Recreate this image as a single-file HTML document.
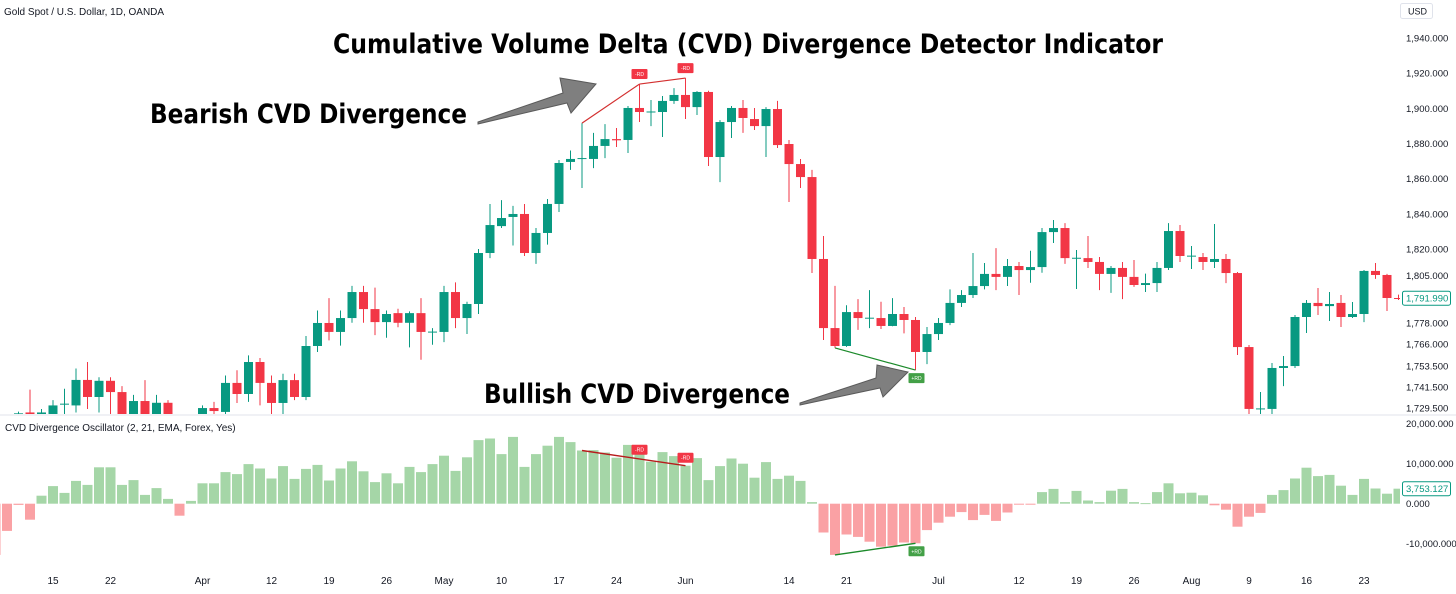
<!DOCTYPE html>
<html><head><meta charset="utf-8"><style>
html,body{margin:0;padding:0;background:#fff;}
svg{display:block;font-family:"Liberation Sans",sans-serif;}
</style></head><body>
<svg id="chart" width="1456" height="594" viewBox="0 0 1456 594" xmlns="http://www.w3.org/2000/svg">
<defs>
<clipPath id="pclip"><rect x="0" y="0" width="1400" height="414"/></clipPath>
<clipPath id="oclip"><rect x="0" y="416" width="1400" height="152"/></clipPath>
</defs>
<rect width="1456" height="594" fill="#fff"/>
<line x1="0" y1="415" x2="1456" y2="415" stroke="#e0e3eb" stroke-width="1"/>
<g id="price" clip-path="url(#pclip)"></g>
<g id="osc" clip-path="url(#oclip)"></g>
<g id="axes"></g>
<g id="annot"></g>
<text x="4" y="15" font-size="10" fill="#131722">Gold Spot / U.S. Dollar, 1D, OANDA</text>
<text x="5" y="431" font-size="10" fill="#131722">CVD Divergence Oscillator (2, 21, EMA, Forex, Yes)</text>
<rect x="1400.5" y="3.5" width="32" height="15" rx="2" fill="#fff" stroke="#e0e3eb"/>
<text x="1408" y="14.5" font-size="9" fill="#131722">USD</text>
<text x="333" y="53" font-size="27" font-weight="bold" fill="#000" font-family="DejaVu Sans, sans-serif" textLength="830" lengthAdjust="spacingAndGlyphs">Cumulative Volume Delta (CVD) Divergence Detector Indicator</text>
<text x="150" y="123" font-size="27" font-weight="bold" fill="#000" font-family="DejaVu Sans, sans-serif" textLength="317" lengthAdjust="spacingAndGlyphs">Bearish CVD Divergence</text>
<text x="484" y="403" font-size="27" font-weight="bold" fill="#000" font-family="DejaVu Sans, sans-serif" textLength="306" lengthAdjust="spacingAndGlyphs">Bullish CVD Divergence</text>
<polygon points="478,122 563,93 560,78 596,84 571,113 567,103 478,124" fill="#7f7f7f" stroke="#5a5a5a" stroke-width="1"/>
<polygon points="800,403 876,378 877,365 908,372 883,397 880,388 800,405" fill="#7f7f7f" stroke="#5a5a5a" stroke-width="1"/>
</svg>
<script>
const firstIndex = -5;
const opens = [1718,1715,1726,1727,1726,1724,1731.5,1731,1745.5,1735.8,1745,1738.6,1722,1733.5,1723,1732.5,1723,1716,1724,1729.5,1727.3,1743.8,1737.5,1755.7,1743.8,1732.4,1745.4,1735.8,1764.8,1777.9,1772.8,1780.7,1795.5,1785.8,1778.4,1783.5,1778,1783.5,1772.8,1772.8,1795.5,1780.7,1788.7,1817.7,1833,1838.2,1839.9,1817.7,1829.1,1845.6,1869.5,1871.5,1871.2,1878.6,1882.5,1882,1900.2,1897.9,1897.9,1904.2,1907.6,1900.7,1909.3,1872.3,1892.2,1900.2,1893.9,1889.9,1899.6,1879.7,1868.3,1860.9,1814.3,1775,1764.8,1784.1,1780.7,1780.7,1776.2,1783,1779.6,1761.4,1771.6,1777.9,1789.3,1793.8,1798.9,1805.8,1804.1,1810.3,1808,1809.7,1829.6,1831.9,1814.8,1814.8,1812.6,1805.8,1809.2,1804.1,1799.5,1800.6,1809.2,1830.2,1816,1815.4,1812.6,1814.3,1806.3,1764.2,1729,1729,1752.3,1753.4,1781.3,1789.3,1787.5,1789.3,1781.3,1783,1807.5,1805.2,1792.1];
const highs = [1722,1724,1727.5,1740,1729,1734,1740.5,1752,1755.7,1747,1747,1742,1737,1745.4,1737,1734,1726,1724,1731,1733,1748,1751,1759.5,1758,1748,1749,1749,1770.5,1785,1792,1785,1799,1799,1798,1785,1786,1784.5,1792,1775,1799,1801,1790,1820,1845.6,1847.8,1844.5,1845.6,1831.9,1848.4,1870.6,1876,1891.6,1886,1891,1888.8,1901.3,1913.8,1904.7,1907,1911.5,1917.2,1909.8,1910,1893.3,1901.3,1904.7,1900.2,1900.7,1904.2,1882,1871.2,1865,1827.4,1799,1788,1791.5,1796.6,1790,1792,1787,1781.3,1775.6,1780.7,1797,1796.6,1817.7,1812,1820.5,1814.3,1812.6,1819,1831.9,1836.5,1834.7,1819.4,1827.4,1815.4,1810.3,1812.6,1813.7,1806,1812.6,1834.7,1833.6,1821.7,1817.7,1834.2,1817.1,1806.9,1765.4,1738.6,1755.1,1759.1,1782.4,1791,1797.8,1795.5,1793.8,1789.8,1808,1812,1805.8,1794];
const lows = [1710,1712,1718,1715,1720,1718,1722,1727,1729,1727,1726,1715,1715,1716,1717,1716,1712,1710,1720,1725,1724,1732.4,1733,1731,1726,1726,1734,1734,1761.4,1768,1765,1778,1778,1771,1769.5,1775.5,1764,1757,1765.5,1767,1775,1771.6,1783,1814.8,1831.9,1822,1816,1811.5,1822.5,1841,1865,1854.7,1866,1871.7,1878,1874.6,1892.2,1889.9,1883.7,1902.5,1893.9,1896.2,1867.2,1858,1883.1,1886,1887.7,1872.3,1877.4,1846.7,1854.7,1806.3,1768.2,1763.7,1764.3,1774,1775,1774.5,1776,1772,1751.1,1754.5,1768.2,1776.7,1787,1792.1,1797,1796.6,1798.9,1793.8,1800.8,1806.5,1823.4,1811.5,1797.2,1809.2,1796.6,1795,1791.5,1798.4,1795.5,1795.5,1808,1812.6,1808.6,1808,1809.2,1800.6,1759.7,1720,1720,1720,1742,1752.3,1772.2,1782.4,1779,1775.6,1780.7,1778.4,1803,1784.7,1791];
const closes = [1715,1722,1726.5,1725,1727,1731,1732,1745.5,1735.8,1745,1738.6,1722,1733.5,1722,1732.5,1723,1716,1722,1729.5,1727.8,1743.8,1737.5,1755.7,1743.8,1732.4,1745.4,1735.8,1764.8,1777.9,1772.8,1780.7,1795.5,1785.8,1778.4,1783,1778,1783.5,1772.8,1773,1795.5,1780.7,1788.7,1817.7,1833.6,1837.6,1839.9,1817.7,1829.1,1845.6,1868.9,1871.2,1871.7,1878.6,1882.5,1881.8,1900.2,1897.9,1898.2,1904.2,1907.6,1900.7,1909.3,1872.3,1892.2,1900.2,1894.5,1889.9,1899.6,1879.1,1868.3,1860.9,1814.3,1775,1764.8,1784.1,1780.7,1780.9,1776.2,1783,1779.6,1761.4,1771.6,1777.9,1789.3,1793.8,1798.9,1805.8,1804.1,1810.3,1808,1809.7,1829.6,1831.9,1814.8,1815,1812.6,1805.8,1809.2,1804.1,1799.5,1800.6,1809.2,1830.2,1816,1816.2,1812.6,1814.3,1806.3,1764.2,1729,1729.3,1752.3,1753.4,1781.3,1789.3,1787.5,1788.7,1781.3,1783,1807.5,1805.2,1792.1,1792];
const cvd = [-12.8,-6.8,-0.3,-4,2,4.4,2.7,5.7,4.7,9.1,9.1,4.7,5.9,2.2,3.9,1.2,-3,0.7,5.1,5.1,7.9,7.4,9.9,8.8,6.3,9.4,6.2,8.7,9.7,5.8,8.8,10.6,8.1,5.4,7.6,5.1,9.2,7.9,9.9,12,8.2,11.6,15.9,16.3,12.4,16.7,9.2,12.4,14.5,16.7,15.4,13.3,13.4,12.8,11.5,14.7,12.5,10.5,12.9,11.9,9.5,11.4,5.9,9.4,11.3,10,6.5,10.4,6.2,7,5.7,0.4,-7.2,-12.8,-7.7,-8.3,-9.5,-10.75,-10.5,-9.7,-9.9,-6.6,-4.75,-3.25,-2.1,-4.1,-2.8,-4.3,-2.2,-0.25,-0.25,2.9,3.7,0.4,3.2,0.8,0.4,3.25,3.7,0.4,0.15,2.9,5.1,2.6,2.75,2.1,-0.4,-1.5,-5.75,-3.25,-2.3,2.2,3.4,6.3,9,6.9,7.2,4.5,2.2,6.2,3.8,2.5,3.753];
const priceTicks = [1940,1920,1900,1880,1860,1840,1820,1805,1778,1766,1753.5,1741.5,1729.5];
const priceTickLabels = ["1,940.000","1,920.000","1,900.000","1,880.000","1,860.000","1,840.000","1,820.000","1,805.000","1,778.000","1,766.000","1,753.500","1,741.500","1,729.500"];
const oscTicks = [20,10,0,-10];
const oscTickLabels = ["20,000.000","10,000.000","0.000","-10,000.000"];
const dateTickIdx = [0,5,13,19,24,29,34,39,44,49,55,64,69,77,84,89,94,99,104,109,114];
const dateTickLabels = ["15","22","Apr","12","19","26","May","10","17","24","Jun","14","21","Jul","12","19","26","Aug","9","16","23"];
const bearPivots = [46,51,55];
const bullPivots = [68,75];
const lastPrice = 1791.99;
const lastCvd = 3.753127;

const NS = "http://www.w3.org/2000/svg";
function X(i){ return 53 + i*11.5; }
function PY(p){ return 38 + (1940 - p)*1.758; }
function OY(v){ return 503.7 - v*4; }
function mk(tag, attrs, parent){
  const e = document.createElementNS(NS, tag);
  for (const k in attrs) e.setAttribute(k, attrs[k]);
  parent.appendChild(e); return e;
}
const G = "#089981", R = "#f23645";
const price = document.getElementById('price');
const osc = document.getElementById('osc');
const axes = document.getElementById('axes');
const annot = document.getElementById('annot');

for (let k = 0; k < opens.length; k++){
  const i = k + firstIndex, x = X(i);
  const o = opens[k], c = closes[k];
  const col = c >= o ? G : R;
  const g = mk('g', {}, price);
  
  
  mk('line', {x1:x, x2:x, y1:PY(highs[k]), y2:PY(lows[k]), stroke:col, 'stroke-width':1}, g);
  const top = PY(Math.max(o,c)), bot = PY(Math.min(o,c));
  mk('rect', {x:x-4.5, y:top, width:9, height:Math.max(1, bot-top), fill:col}, g);

  const v = cvd[k];
  const b = mk('rect', {x:x-5, y:Math.min(OY(v), OY(0)), width:10, height:Math.max(1, Math.abs(OY(v)-OY(0))), fill: v >= 0 ? '#a5d6a7' : '#faa1a4'}, osc);
  
  
}

priceTicks.forEach((p, j) => {
  const t = mk('text', {x:1406, y:PY(p)+3.5, 'font-size':9.5, fill:'#131722'}, axes);
  t.textContent = priceTickLabels[j];
  
  
});
oscTicks.forEach((v, j) => {
  const t = mk('text', {x:1406, y:OY(v)+3.5, 'font-size':9.5, fill:'#131722'}, axes);
  t.textContent = oscTickLabels[j];
  
  
});
dateTickIdx.forEach((i, j) => {
  const t = mk('text', {x:X(i), y:584, 'font-size':10, fill:'#131722', 'text-anchor':'middle'}, axes);
  t.textContent = dateTickLabels[j];
  
  
});

function valueBox(y, text, name){
  const g = mk('g', {}, axes);
  
  
  mk('rect', {x:1402.5, y:y-7, width:48, height:14, rx:2, fill:'#fff', stroke:G}, g);
  const t = mk('text', {x:1406, y:y+3.5, 'font-size':9.5, fill:G}, g);
  t.textContent = text;
}
valueBox(PY(lastPrice), "1,791.990", 'last-price-label');
valueBox(OY(lastCvd), "3,753.127", 'last-cvd-label');

function tag(x, y, col, txt, name){
  const g = mk('g', {}, annot);
  
  
  mk('rect', {x:x-8, y:y-5, width:16, height:10, rx:1, fill:col}, g);
  const t = mk('text', {x:x, y:y+2, 'font-size':5, fill:'#fff', 'text-anchor':'middle'}, g);
  t.textContent = txt;
}
for (let j = 0; j < bearPivots.length-1; j++){
  const a = bearPivots[j]-firstIndex, b = bearPivots[j+1]-firstIndex;
  const l = mk('line', {x1:X(bearPivots[j]), y1:PY(highs[a]), x2:X(bearPivots[j+1]), y2:PY(highs[b]), stroke:'#d32f2f', 'stroke-width':1.2}, annot);
  
  
}
{
  const a = bearPivots[0], b = bearPivots[bearPivots.length-1];
  const l = mk('line', {x1:X(a), y1:OY(cvd[a-firstIndex]), x2:X(b), y2:OY(cvd[b-firstIndex]), stroke:'#b71c1c', 'stroke-width':1.4}, annot);
  
  
  for (let j = 1; j < bearPivots.length; j++){
    const i = bearPivots[j];
    tag(X(i), PY(highs[i-firstIndex])-10, R, '-RD', 'bearish-price-tag');
    tag(X(i), OY(cvd[i-firstIndex]) - (j===1 ? 4 : 8), R, '-RD', 'bearish-cvd-tag');
  }
}
{
  const a = bullPivots[0], b = bullPivots[1];
  const l1 = mk('line', {x1:X(a), y1:PY(lows[a-firstIndex]), x2:X(b), y2:PY(lows[b-firstIndex]), stroke:'#1b8a2a', 'stroke-width':1.2}, annot);
  
  
  const l2 = mk('line', {x1:X(a), y1:OY(cvd[a-firstIndex]), x2:X(b), y2:OY(cvd[b-firstIndex]), stroke:'#1b8a2a', 'stroke-width':1.4}, annot);
  
  
  tag(X(b)+1, PY(lows[b-firstIndex])+8, '#43a047', '+RD', 'bullish-price-tag');
  tag(X(b)+1, OY(cvd[b-firstIndex])+8, '#43a047', '+RD', 'bullish-cvd-tag');
}
</script>
</body></html>
